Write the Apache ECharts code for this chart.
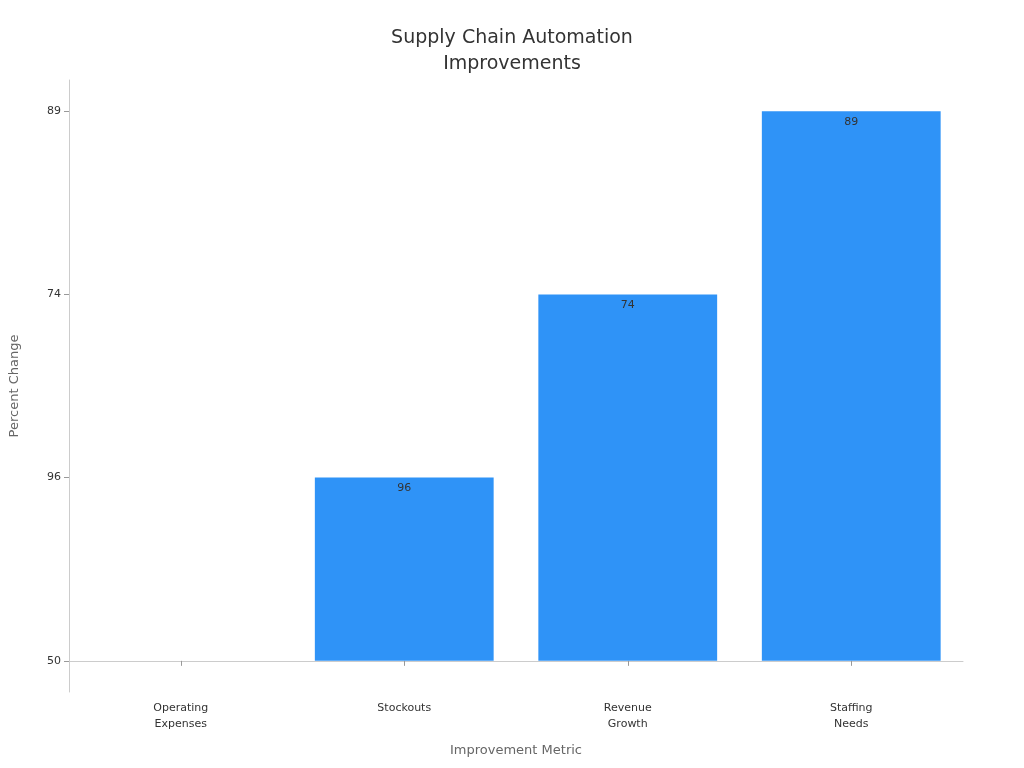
<!DOCTYPE html>
<html>
<head>
<meta charset="utf-8">
<script src="https://cdn.jsdelivr.net/npm/echarts@6/dist/echarts.min.js"></script>
<style>html,body{margin:0;padding:0;background:#fff}#chartDom{width:1024px;height:768px}</style>
</head>
<body>
<div id="chartDom"></div>
<script>
var categories = ['Operating\nExpenses', 'Stockouts', 'Revenue\nGrowth', 'Staffing\nNeeds'];
var values = [50, 96, 74, 89];
var tickLabels = ['50', '96', '74', '89'];

// the y axis is ordinal: each value sits at the position of its own tick label
var positions = values.map(function (v) { return tickLabels.indexOf(String(v)); });
var tickIdx = tickLabels.map(function (t, i) { return i; });

var chart = echarts.init(document.getElementById('chartDom'));
chart.setOption({
    textStyle: { fontFamily: 'DejaVu Sans' },
    title: {
        text: 'Supply Chain Automation\nImprovements',
        left: 'center',
        top: 20,
        textStyle: { fontSize: 19, fontWeight: 'normal', color: '#333', lineHeight: 26 }
    },
    grid: { left: 60, right: 61, top: 80, bottom: 76 },
    xAxis: {
        type: 'category',
        data: categories,
        name: 'Improvement Metric',
        nameLocation: 'middle',
        nameGap: 52,
        nameTextStyle: { color: '#666', fontSize: 13 },
        axisLine: { lineStyle: { color: '#ccc' } },
        axisTick: { show: true, alignWithLabel: true, lineStyle: { color: '#999' } },
        axisLabel: { color: '#333', fontSize: 11, lineHeight: 16 }
    },
    yAxis: {
        type: 'value',
        min: -0.17,
        max: 3.17,
        name: 'Percent Change',
        nameLocation: 'middle',
        nameGap: 48,
        nameTextStyle: { color: '#666', fontSize: 13 },
        splitLine: { show: false },
        axisLine: { show: true, lineStyle: { color: '#ccc' } },
        axisTick: { show: true, customValues: tickIdx, lineStyle: { color: '#999' } },
        axisLabel: {
            color: '#333', fontSize: 11,
            customValues: tickIdx,
            formatter: function (v) { return tickLabels[Math.round(v)]; }
        }
    },
    series: [{
        type: 'bar',
        data: positions,
        barWidth: '80%',
        itemStyle: { color: '#2f93f7' },
        label: {
            show: true,
            position: 'insideTop',
            color: '#333',
            fontSize: 11,
            formatter: function (p) { return values[p.dataIndex] === 50 ? '' : values[p.dataIndex]; }
        }
    }]
});
</script>
</body>
</html>
